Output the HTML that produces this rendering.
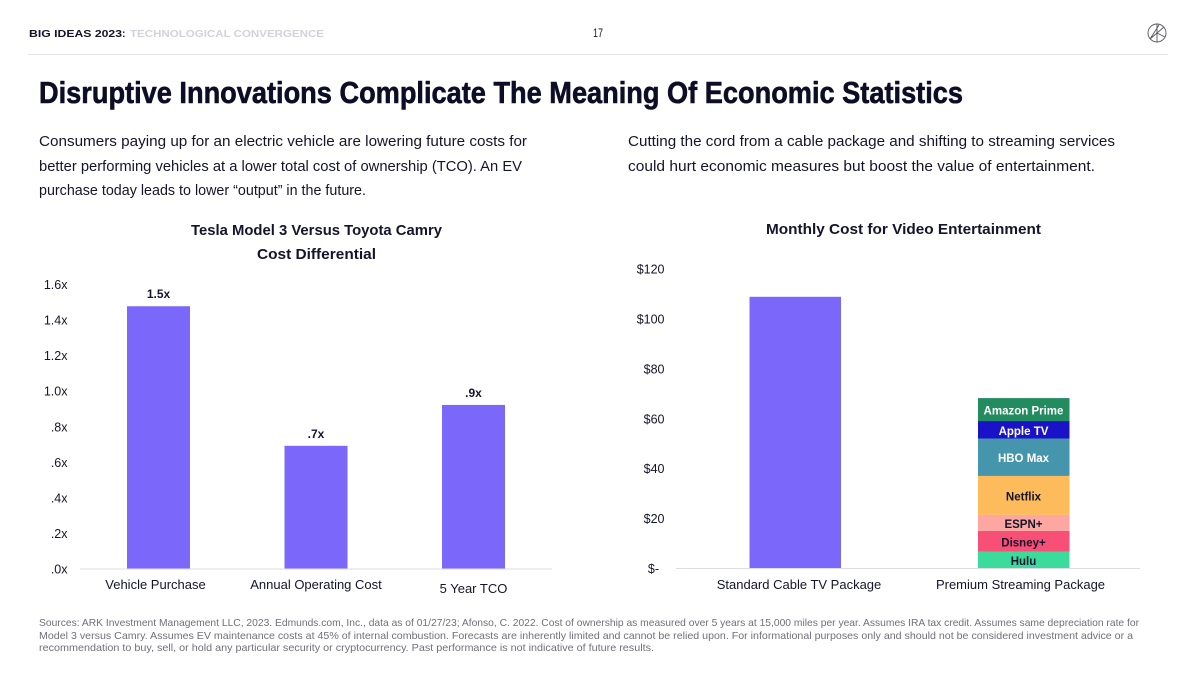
<!DOCTYPE html>
<html lang="en">
<head>
<meta charset="utf-8">
<title>Disruptive Innovations Complicate The Meaning Of Economic Statistics</title>
<style>
html,body{margin:0;padding:0;background:#fff;}
svg{display:block;font-family:"Liberation Sans",sans-serif;}
text{fill:#14142b;}
</style>
</head>
<body>
<svg id="slide" width="1200" height="673" viewBox="0 0 1200 673" xmlns="http://www.w3.org/2000/svg">
<rect width="1200" height="673" fill="#ffffff"/>
<text x="29" y="37" font-size="10.5" font-weight="bold" textLength="93" lengthAdjust="spacingAndGlyphs">BIG IDEAS 2023</text>
<text x="122" y="37" font-size="10.5" font-weight="bold">:</text>
<text x="130" y="37" font-size="10.5" font-weight="bold" textLength="194" lengthAdjust="spacingAndGlyphs" style="fill:#d2d2da">TECHNOLOGICAL CONVERGENCE</text>
<text x="593" y="37" font-size="12" textLength="10" lengthAdjust="spacingAndGlyphs">17</text>
<g fill="none" stroke="#55555f" stroke-width="0.9">
<circle cx="1157" cy="33" r="9"/>
<path d="M1157 24V42M1150 39L1159 25M1157 33L1164 27M1157 33L1165 37M1150 39L1157 33"/>
</g>
<rect x="28" y="54" width="1140" height="1" fill="#e4e4e8"/>
<text x="39" y="103" font-size="31" font-weight="bold" textLength="924" lengthAdjust="spacingAndGlyphs" style="fill:#0d0d26;stroke:#0d0d26;stroke-width:0.6">Disruptive Innovations Complicate The Meaning Of Economic Statistics</text>
<g font-size="15">
<text x="39" y="146" textLength="488" lengthAdjust="spacingAndGlyphs">Consumers paying up for an electric vehicle are lowering future costs for</text>
<text x="39" y="171" textLength="483" lengthAdjust="spacingAndGlyphs">better performing vehicles at a lower total cost of ownership (TCO). An EV</text>
<text x="39" y="195" textLength="327" lengthAdjust="spacingAndGlyphs">purchase today leads to lower “output” in the future.</text>
</g>
<g font-size="15">
<text x="628" y="146" textLength="487" lengthAdjust="spacingAndGlyphs">Cutting the cord from a cable package and shifting to streaming services</text>
<text x="628" y="171" textLength="467" lengthAdjust="spacingAndGlyphs">could hurt economic measures but boost the value of entertainment.</text>
</g>
<g font-size="15" font-weight="bold">
<text x="191" y="235" textLength="251" lengthAdjust="spacingAndGlyphs">Tesla Model 3 Versus Toyota Camry</text>
<text x="257" y="259" textLength="119" lengthAdjust="spacingAndGlyphs">Cost Differential</text>
</g>
<text x="766" y="234" font-size="15" font-weight="bold" textLength="275" lengthAdjust="spacingAndGlyphs">Monthly Cost for Video Entertainment</text>
<g id="left-chart"></g>
<g id="right-chart"></g>
<g font-size="10.5">
<text x="39" y="626" textLength="1100" lengthAdjust="spacingAndGlyphs" style="fill:#6f6f7b">Sources: ARK Investment Management LLC, 2023. Edmunds.com, Inc., data as of 01/27/23; Afonso, C. 2022. Cost of ownership as measured over 5 years at 15,000 miles per year. Assumes IRA tax credit. Assumes same depreciation rate for</text>
<text x="39" y="639" textLength="1094" lengthAdjust="spacingAndGlyphs" style="fill:#6f6f7b">Model 3 versus Camry. Assumes EV maintenance costs at 45% of internal combustion. Forecasts are inherently limited and cannot be relied upon. For informational purposes only and should not be considered investment advice or a</text>
<text x="39" y="651" textLength="615" lengthAdjust="spacingAndGlyphs" style="fill:#6f6f7b">recommendation to buy, sell, or hold any particular security or cryptocurrency. Past performance is not indicative of future results.</text>
</g>
</svg>
<script>
var leftCategories = ["Vehicle Purchase", "Annual Operating Cost", "5 Year TCO"];
var leftValues = [1.475, 0.69, 0.92];
var leftValueLabels = ["1.5x", ".7x", ".9x"];
var leftTickValues = [0, 0.2, 0.4, 0.6, 0.8, 1.0, 1.2, 1.4, 1.6];
var leftTickLabels = [".0x", ".2x", ".4x", ".6x", ".8x", "1.0x", "1.2x", "1.4x", "1.6x"];

var rightCategories = ["Standard Cable TV Package", "Premium Streaming Package"];
var cableValue = [108.7];
var streamingServices = ["Hulu", "Disney+", "ESPN+", "Netflix", "HBO Max", "Apple TV", "Amazon Prime"];
var streamingValues = [6.5, 8.4, 6.4, 15.6, 15, 7, 9.2];
var streamingColors = ["#3bdc9b", "#f74f75", "#fda7a0", "#fdbb5b", "#4596ac", "#1a12c8", "#228b5f"];
var streamingTextColors = ["#14142b", "#14142b", "#14142b", "#14142b", "#ffffff", "#ffffff", "#ffffff"];
var rightTickValues = [0, 20, 40, 60, 80, 100, 120];
var rightTickLabels = ["$-", "$20", "$40", "$60", "$80", "$100", "$120"];

var NS = "http://www.w3.org/2000/svg";
var PURPLE = "#7b68fa";

function make(parent, tag, attrs, content) {
  var el = document.createElementNS(NS, tag);
  for (var k in attrs) { el.setAttribute(k, attrs[k]); }
  if (content !== undefined) { el.textContent = content; }
  parent.appendChild(el);
  return el;
}

function leftY(v) { return 568.5 - v * 177.8; }
function leftX(i) { return 158.5 + i * 157.5; }
function rightY(v) { return 568 - v * 2.495; }
function rightX(i) { return 795.5 + i * 228.5; }

var leftG = document.getElementById("left-chart");
var rightG = document.getElementById("right-chart");

leftTickValues.forEach(function (v, i) {
  var t = make(leftG, "text", {x: 67.5, y: leftY(v) + 5, "font-size": 12.5, "text-anchor": "end"}, leftTickLabels[i]);
  
  
});
leftCategories.forEach(function (c, i) {
  var top = leftY(leftValues[i]);
  var b = make(leftG, "rect", {x: leftX(i) - 31.5, y: top, width: 63, height: leftY(0) - top, fill: PURPLE});
  
  
  var v = make(leftG, "text", {x: leftX(i), y: top - 8, "font-size": 12, "font-weight": "bold", "text-anchor": "middle"}, leftValueLabels[i]);
  
  
  var l = make(leftG, "text", {x: leftX(i) + (i === 0 ? -3 : 0), y: i === 2 ? 593 : 589, "font-size": 13, "text-anchor": "middle"}, c);
  
  
});
var leftAxis = make(leftG, "rect", {x: 80, y: 568.5, width: 472, height: 1, fill: "#dcdce6"});



rightTickValues.forEach(function (v, i) {
  var t = make(rightG, "text", {x: v === 0 ? 659 : 664.5, y: rightY(v) + 5, "font-size": 12.5, "text-anchor": "end"}, rightTickLabels[i]);
  
  
});
var cableTop = rightY(cableValue[0]);
var cableBar = make(rightG, "rect", {x: rightX(0) - 46, y: cableTop, width: 91.5, height: rightY(0) - cableTop, fill: PURPLE});



var cum = 0;
streamingServices.forEach(function (s, i) {
  var top = rightY(cum + streamingValues[i]);
  var bottom = rightY(cum);
  var seg = make(rightG, "rect", {x: rightX(1) - 46, y: top, width: 91.5, height: bottom - top, fill: streamingColors[i]});
  
  
  var t = make(rightG, "text", {x: rightX(1) - 0.5, y: (top + bottom) / 2 + 5, "font-size": 11.5, "font-weight": "bold", "text-anchor": "middle", style: "fill:" + streamingTextColors[i]}, s);
  
  
  cum += streamingValues[i];
});

rightCategories.forEach(function (c, i) {
  var l = make(rightG, "text", {x: rightX(i) + (i === 0 ? 3.5 : -3.5), y: 589, "font-size": 13, "text-anchor": "middle"}, c);
  
  
});
var rightAxis = make(rightG, "rect", {x: 676, y: 568, width: 464, height: 1, fill: "#dcdce6"});


</script>
</body>
</html>
